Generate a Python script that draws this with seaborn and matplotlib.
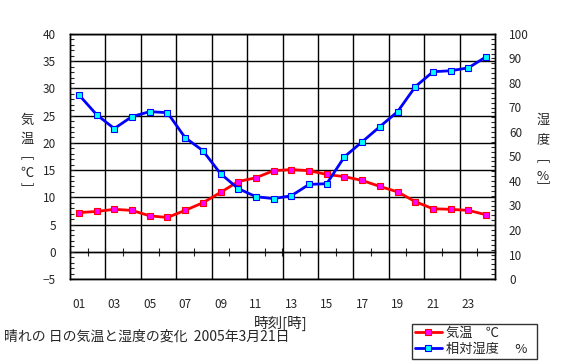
import matplotlib
matplotlib.use("Agg")
import matplotlib.pyplot as plt
import seaborn as sns
from matplotlib.ticker import MultipleLocator, FixedLocator

# hourly observations, 2005-03-21
hours = list(range(1, 25))
hour_labels = ["01", "03", "05", "07", "09", "11", "13", "15", "17", "19", "21", "23"]
temp_c = [7.2, 7.4, 7.8, 7.6, 6.6, 6.3, 7.6, 9.0, 10.9, 12.9, 13.6, 14.9,
          15.1, 14.9, 14.2, 13.8, 13.1, 12.0, 11.0, 9.2, 7.9, 7.8, 7.6, 6.8]
humidity = [75.2, 67.1, 61.4, 66.3, 68.3, 67.9, 57.7, 52.4, 43.0, 36.9, 33.6, 32.8,
            34.0, 38.6, 38.9, 49.9, 56.0, 62.2, 68.3, 78.5, 84.6, 85.0, 86.2, 90.7]

sns.set_style("white")
plt.rcParams["font.family"] = ["Noto Sans CJK JP", "DejaVu Sans"]
plt.rcParams["axes.edgecolor"] = "black"
plt.rcParams["axes.linewidth"] = 1.0

W, H = 565, 361
fig = plt.figure(figsize=(W / 100, H / 100), dpi=100)
fig.subplots_adjust(left=70 / W, right=495 / W, bottom=82 / H, top=327 / H)
ax = fig.add_subplot(111)
ax2 = ax.twinx()

sns.lineplot(x=hours, y=temp_c, ax=ax, color="#ff0000", linewidth=2,
             marker="s", markersize=5, markerfacecolor="#ff00ff",
             markeredgecolor="#ff0000", markeredgewidth=0.8,
             label="気温　℃", zorder=3)
sns.lineplot(x=hours, y=humidity, ax=ax2, color="#0000ff", linewidth=2,
             marker="s", markersize=5, markerfacecolor="#00ffff",
             markeredgecolor="#0000ff", markeredgewidth=0.8,
             label="相対湿度　 %", zorder=3)

h1, l1 = ax.get_legend_handles_labels()
h2, l2 = ax2.get_legend_handles_labels()
ax.get_legend().remove()
ax2.get_legend().remove()

# x axis: categories centred on the hour, grid every second boundary
ax.set_xlim(0.5, 24.5)
ax.xaxis.set_major_locator(FixedLocator(hours[::2]))
ax.set_xticklabels(hour_labels)
ax.xaxis.set_minor_locator(FixedLocator([b + 0.5 for b in range(2, 24, 2)]))
ax.tick_params(axis="x", which="both", length=0, pad=14, labelsize=8.5)
ax.grid(axis="x", which="minor", color="black", linewidth=1)

# left axis
ax.set_ylim(-5, 40)
ax.yaxis.set_major_locator(MultipleLocator(5))
ax.yaxis.set_minor_locator(MultipleLocator(1))
ax.tick_params(axis="y", which="both", direction="in", length=3, width=0.8,
               pad=10, labelsize=8.5)
ax.grid(axis="y", which="major", color="black", linewidth=1)

# right axis
ax2.set_ylim(0, 100)
ax2.yaxis.set_major_locator(MultipleLocator(10))
ax2.yaxis.set_minor_locator(MultipleLocator(2))
ax2.tick_params(axis="y", which="both", direction="in", length=3, width=0.8,
                pad=10, labelsize=8.5)
ax2.grid(False)
ax2.set_ylabel("")
ax.set_ylabel("")

# category axis crossing at 0 degC
secax = ax.secondary_xaxis(5 / 45)
secax.set_xticks([b + 0.5 for b in range(0, 25)])
secax.tick_params(axis="x", direction="inout", length=6, width=0.8, labelbottom=False)
secax.spines["bottom"].set_linewidth(1)

# stacked vertical axis titles
def stacked(x, ys, chars):
    for y, ch in zip(ys, chars):
        fig.text(x / W, 1 - y / H, ch, ha="center", va="center", fontsize=9.5)

stacked(27, [120, 139, 156, 173, 190], ["気", "温", "﹇", "℃", "﹈"])
stacked(543, [120, 140, 158, 176, 189], ["湿", "度", "﹇", "%", "﹈"])

fig.text(281 / W, 1 - 323 / H, "時刻[時]", ha="center", va="center", fontsize=10.5)
fig.text(4 / W, 1 - 337 / H, "晴れの 日の気温と湿度の変化  2005年3月21日",
         ha="left", va="center", fontsize=10)

leg = fig.legend(h1 + h2, l1 + l2, loc="lower left",
                 bbox_to_anchor=(412 / W, 2 / H, 125 / W, 45 / H), mode="expand",
                 fontsize=9.5, frameon=True, fancybox=False, shadow=False,
                 borderpad=0.25, labelspacing=0.2, handlelength=2.0,
                 handletextpad=0.3, borderaxespad=0)
leg.get_frame().set_edgecolor("black")
leg.get_frame().set_linewidth(1)

fig.savefig("out.png", dpi=100)
